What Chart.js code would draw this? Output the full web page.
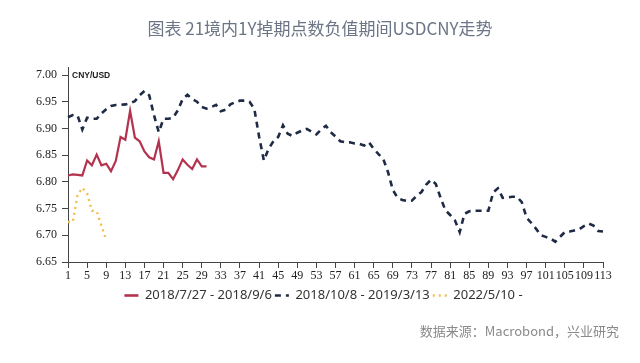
<!DOCTYPE html>
<html>
<head>
<meta charset="utf-8">
<script src="https://cdn.jsdelivr.net/npm/chart.js@4"></script>
<style>
  body { margin: 0; background: #fff; }
  #wrap { position: relative; width: 640px; height: 363px; }
  #chart { position: absolute; left: 0; top: 0; }
  .title { position: absolute; left: 0; top: 15px; width: 640px; text-align: center;
           font: 17px "Noto Sans CJK SC", sans-serif; color: #6b7586; line-height: 26px; }
  .unit { position: absolute; left: 72px; top: 70px; font: bold 8.5px "Liberation Sans", sans-serif; color: #222; }
  .source { position: absolute; right: 21px; top: 321px; font: 13px "Noto Sans CJK SC", sans-serif;
            color: #8a8a8a; line-height: 20px; }
</style>
</head>
<body>
<div id="wrap">
  <canvas id="chart" width="640" height="363"></canvas>
  <div class="title">图表 21境内1Y掉期点数负值期间USDCNY走势</div>
  <div class="unit">CNY/USD</div>
  <div class="source">数据来源：Macrobond，兴业研究</div>
</div>
<script>
// trading days since start of each period
const dayLabels = Array.from({ length: 113 }, (_, i) => String(i + 1));
const yTicks = [6.65, 6.70, 6.75, 6.80, 6.85, 6.90, 6.95, 7.00];

const seriesNames = ["2018/7/27 - 2018/9/6", "2018/10/8 - 2019/3/13", "2022/5/10 -"];

const period2018a = [6.812, 6.814, 6.813, 6.812, 6.840, 6.831, 6.851, 6.831, 6.834, 6.820,
  6.839, 6.884, 6.879, 6.933, 6.883, 6.876, 6.857, 6.846, 6.842, 6.876,
  6.817, 6.817, 6.805, 6.822, 6.842, 6.832, 6.824, 6.842, 6.829, 6.829];

const period2018b = [6.921, 6.925, 6.924, 6.898, 6.920, 6.918, 6.918, 6.928, 6.936, 6.942,
  6.944, 6.944, 6.945, 6.947, 6.951, 6.962, 6.970, 6.962, 6.925, 6.893,
  6.918, 6.918, 6.920, 6.934, 6.955, 6.963, 6.955, 6.950, 6.940, 6.937,
  6.940, 6.944, 6.932, 6.935, 6.945, 6.949, 6.952, 6.952, 6.950, 6.937,
  6.885, 6.840, 6.862, 6.876, 6.884, 6.906, 6.890, 6.886, 6.892, 6.896,
  6.899, 6.894, 6.889, 6.898, 6.905, 6.893, 6.885, 6.876, 6.874, 6.874,
  6.872, 6.871, 6.868, 6.874, 6.862, 6.852, 6.843, 6.818, 6.785, 6.770,
  6.766, 6.764, 6.765, 6.774, 6.781, 6.795, 6.804, 6.796, 6.770, 6.747,
  6.738, 6.728, 6.706, 6.740, 6.745, 6.746, 6.746, 6.746, 6.746, 6.780,
  6.788, 6.770, 6.771, 6.772, 6.772, 6.762, 6.733, 6.723, 6.712, 6.700,
  6.697, 6.694, 6.688, 6.697, 6.706, 6.707, 6.709, 6.711, 6.717, 6.722,
  6.718, 6.708, 6.707];

const period2022 = [6.725, 6.725, 6.775, 6.789, 6.778, 6.746, 6.745, 6.718, 6.691];

const axisColor = "#444";
const serif = "Liberation Serif, DejaVu Serif, serif";

// legend in the original sits centred under the plot, not the canvas
const legendShift = {
  id: "legendShift",
  afterLayout(chart) {
    chart.legend.left += 22;
    chart.legend.right += 22;
  }
};

const ctx = document.getElementById("chart");

new Chart(ctx, {
  type: "line",
  data: {
    labels: dayLabels,
    datasets: [
      {
        label: seriesNames[0],
        data: period2018a,
        borderColor: "#b3334f",
        backgroundColor: "#b3334f",
        borderWidth: 2.2,
        pointRadius: 0,
        tension: 0
      },
      {
        label: seriesNames[1],
        data: period2018b,
        borderColor: "#1f2b45",
        backgroundColor: "#1f2b45",
        borderWidth: 2.6,
        borderDash: [6, 5],
        pointRadius: 0,
        tension: 0
      },
      {
        label: seriesNames[2],
        data: period2022,
        borderColor: "#f0bf4c",
        backgroundColor: "#f0bf4c",
        borderWidth: 2.4,
        borderDash: [2, 4],
        pointRadius: 0,
        tension: 0
      }
    ]
  },
  options: {
    responsive: false,
    animation: false,
    layout: { padding: { top: 67, right: 37, left: 0, bottom: 51 } },
    plugins: {
      title: { display: false },
      tooltip: { enabled: false },
      legend: {
        position: "bottom",
        labels: {
          usePointStyle: true,
          pointStyle: "line",
          pointStyleWidth: 14,
          boxHeight: 2,
          color: "#333",
          padding: 3,
          font: { family: "'Noto Sans', sans-serif", size: 13 },
          generateLabels: function (chart) {
            const items = Chart.defaults.plugins.legend.labels.generateLabels(chart);
            items.forEach(item => {
              const ds = chart.data.datasets[item.datasetIndex];
              item.lineDash = ds.borderDash || [];
              item.strokeStyle = ds.borderColor;
              item.lineWidth = 2.6;
            });
            return items;
          }
        }
      }
    },
    scales: {
      x: {
        type: "category",
        offset: false,
        grid: { display: true, drawOnChartArea: false, drawTicks: true, tickLength: 6, color: axisColor },
        border: { display: true, color: axisColor, width: 1 },
        ticks: {
          autoSkip: false,
          maxRotation: 0,
          padding: 1,
          color: "#222",
          font: { family: serif, size: 12 },
          callback: function (value, index) {
            return index % 4 === 0 ? dayLabels[index] : null;
          }
        },
        afterFit: function (scale) { scale.height = 24; }
      },
      y: {
        min: 6.65,
        max: 7.015,
        grid: { display: true, drawOnChartArea: false, drawTicks: true, tickLength: 6, color: axisColor },
        border: { display: true, color: axisColor, width: 1 },
        ticks: {
          padding: 5,
          color: "#222",
          font: { family: serif, size: 12 },
          callback: function (value) { return value.toFixed(2); }
        },
        afterBuildTicks: function (scale) {
          scale.ticks = yTicks.map(v => ({ value: v }));
        },
        afterFit: function (scale) { scale.width = 68; }
      }
    }
  },
  plugins: [legendShift]
});
</script>
</body>
</html>
